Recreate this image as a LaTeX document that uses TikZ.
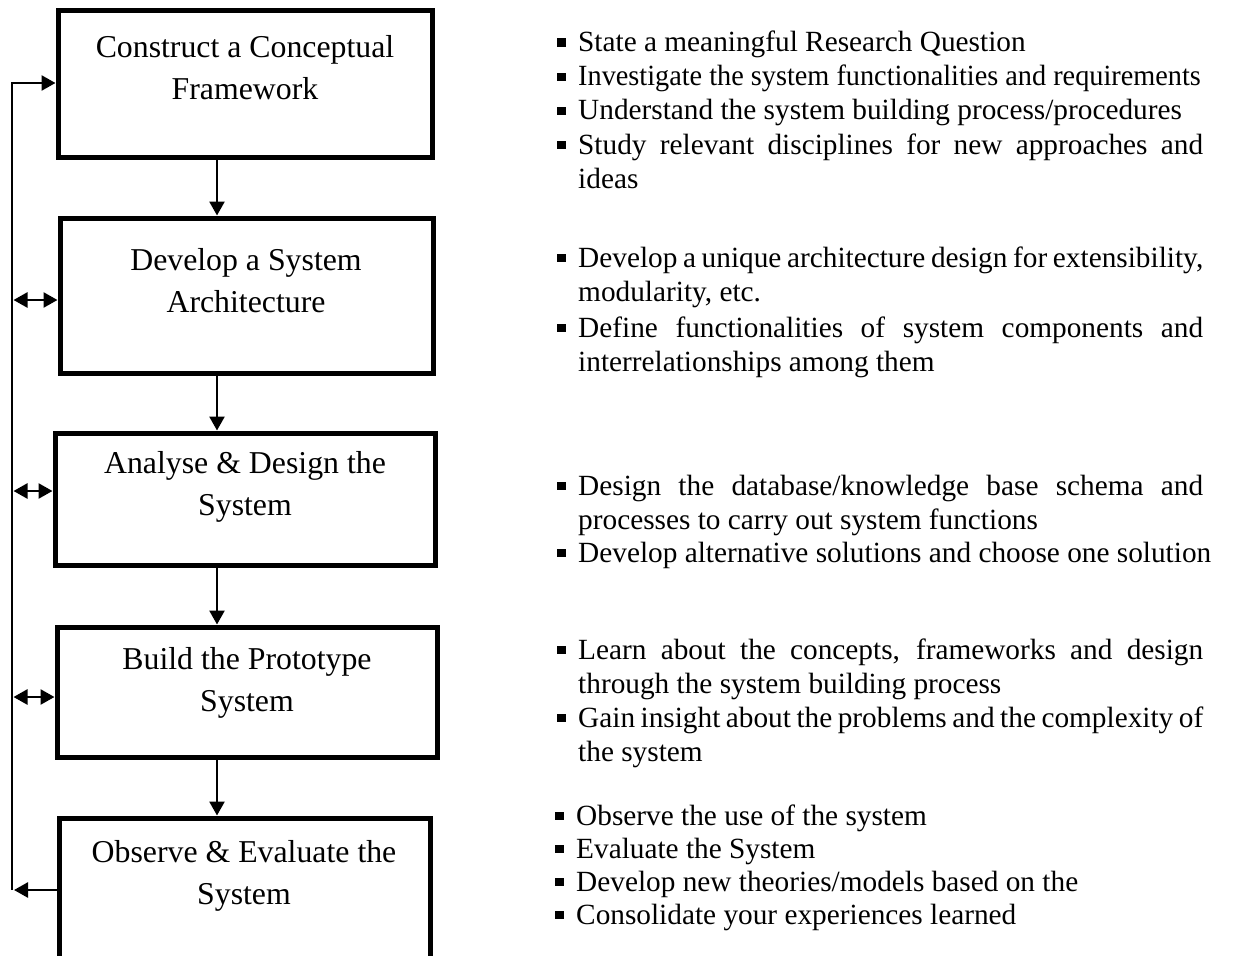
\documentclass[tikz,border=0pt]{standalone}
\usepackage{fontspec}
\setmainfont{Liberation Serif}
\usetikzlibrary{arrows.meta}
\hyphenpenalty=10000
\exhyphenpenalty=10000
\tolerance=10000
\hbadness=10000
\newcommand\bitem[1]{\makebox[21pt][l]{\rule[5pt]{8.5pt}{8.5pt}}\parbox[t]{625pt}{#1}}
\begin{document}
\begin{tikzpicture}[x=1pt,y=-1pt,
  box/.style={draw, line width=5pt, rectangle, inner sep=0pt},
  boxtext/.style={anchor=base, align=center, font=\fontsize{31.8}{42}\selectfont, inner sep=0pt},
  item/.style={anchor=base west, inner sep=0pt, font=\fontsize{29.3}{34}\selectfont},
  tip/.tip={Triangle[length=14pt,width=15pt]},
  conn/.style={line width=2.6pt, -tip},
  dconn/.style={line width=2.6pt, tip-tip},
]
\clip (0,0) rectangle (1249,955);
\fill[white] (0,0) rectangle (1249,955);

% boxes
\node[box, minimum width=374pt, minimum height=146pt] (b1) at (245,84) {};
\node[box, minimum width=373pt, minimum height=155pt] (b2) at (246.5,295.5) {};
\node[box, minimum width=380pt, minimum height=132pt] (b3) at (245,499) {};
\node[box, minimum width=380pt, minimum height=130pt] (b4) at (247,692) {};
\node[box, minimum width=371pt, minimum height=172pt] (b5) at (244.5,904) {};

% box texts (base = baseline of the last line)
\node[boxtext] (t1) at (245,100) {Construct a Conceptual\\Framework};
\node[boxtext] (t2) at (246,312) {Develop a System\\Architecture};
\node[boxtext] (t3) at (245,515) {Analyse \& Design the\\System};
\node[boxtext] (t4) at (247,711) {Build the Prototype\\System};
\node[boxtext] (t5) at (244,904) {Observe \& Evaluate the\\System};

% vertical arrows
\coordinate (ax) at (217,0);
\draw[conn] (b1.south -| ax) -- (b2.north -| ax);
\draw[conn] (b2.south -| ax) -- (b3.north -| ax);
\draw[conn] (b3.south -| ax) -- (b4.north -| ax);
\draw[conn] (b4.south -| ax) -- (b5.north -| ax);

% feedback loop
\coordinate (lt) at (12,83);
\coordinate (lb) at (12,890);
\coordinate (lbe) at (14,890);
\draw[conn] (b5.west |- lb) -- (lbe);
\draw[conn] (lb) -- (lt) -- (b1.west |- lt);
\coordinate (d2) at (13.5,300);
\coordinate (d3) at (13.5,491);
\coordinate (d4) at (13.5,697);
\draw[dconn] (d2) -- (b2.west |- d2);
\draw[dconn] (d3) -- (b3.west |- d3);
\draw[dconn] (d4) -- (b4.west |- d4);

% right-hand descriptions
\node[item] (r1) at (557,52) {\bitem{State a meaningful Research Question}};
\node[item] (r2) at (557,86) {\bitem{\scalebox{0.965}[1]{Investigate the system functionalities and requirements}}};
\node[item] (r3) at (557,120) {\bitem{Understand the system building process/procedures}};
\node[item] (r4) at (557,154) {\bitem{Study relevant disciplines for new approaches and\linebreak ideas}};
\node[item] (r5) at (557,267) {\bitem{Develop a unique architecture design for extensibility,\linebreak modularity, etc.}};
\node[item] (r6) at (557,337) {\bitem{Define functionalities of system components and\linebreak interrelationships among them}};
\node[item] (r7) at (557,495) {\bitem{Design the database/knowledge base schema and\linebreak processes to carry out system functions}};
\node[item] (r8) at (557,562) {\bitem{\mbox{Develop alternative solutions and choose one solution}}};
\node[item] (r9) at (557,659) {\bitem{Learn about the concepts, frameworks and design\linebreak through the system building process}};
\node[item] (r10) at (557,727) {\bitem{Gain insight about the problems and the complexity of\linebreak the system}};
\node[item] (r11) at (555,825) {\bitem{Observe the use of the system}};
\node[item] (r12) at (555,858) {\bitem{Evaluate the System}};
\node[item] (r13) at (555,891) {\bitem{Develop new theories/models based on the}};
\node[item] (r14) at (555,924) {\bitem{Consolidate your experiences learned}};
\end{tikzpicture}
\end{document}
